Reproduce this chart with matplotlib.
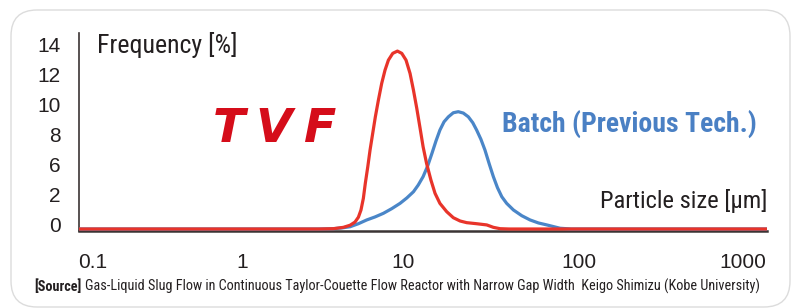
import os
import numpy as np
import matplotlib
matplotlib.use("Agg")
import matplotlib.pyplot as plt
import matplotlib.font_manager as fm
from matplotlib.font_manager import FontProperties
from matplotlib.patches import FancyBboxPatch
from matplotlib.transforms import ScaledTranslation

# ---------------- data ----------------
size_um_tvf = [0.08, 1.0, 3.0, 3.69, 4.26, 4.69, 5.03, 5.28, 5.48, 5.67, 5.83, 6.04, 6.24,
               6.48, 6.73, 7.03, 7.37, 7.73, 8.11, 8.63, 9.23, 9.82, 10.4, 10.96, 11.46,
               11.97, 12.5, 13.0, 13.6, 14.4, 15.2, 16.2, 17.7, 19.3, 21.1, 23.0, 26.2,
               29.9, 32.6, 35.6, 40.0, 1400.0]
freq_tvf = [0.0, 0.0, 0.0, 0.02, 0.11, 0.25, 0.46, 0.78, 1.26, 2.07, 4.06, 6.13, 7.24,
            8.34, 9.44, 10.55, 11.66, 12.54, 13.20, 13.65, 13.80, 13.65, 13.20, 12.32, 11.21,
            10.0, 8.68, 7.46, 6.36, 4.50, 2.73, 1.70, 1.15, 0.75, 0.53, 0.42, 0.35,
            0.27, 0.11, 0.02, 0.0, 0.0]

size_um_batch = [0.08, 1.0, 3.0, 3.69, 4.16, 4.69, 5.28, 5.95, 6.70, 7.55, 8.51, 9.58,
                 10.5, 11.46, 12.2, 13.0, 13.8, 14.6, 15.4, 16.2, 17.1, 18.1, 19.3, 20.6,
                 22.0, 23.5, 24.9, 26.2, 27.7, 29.2, 30.9, 32.6, 34.4, 36.4, 38.8, 42.4,
                 47.3, 52.7, 58.8, 65.6, 78.0, 90.0, 1400.0]
freq_batch = [0.0, 0.0, 0.0, 0.02, 0.07, 0.15, 0.35, 0.60, 0.80, 1.04, 1.35, 1.70,
              2.11, 2.94, 3.83, 4.94, 6.18, 7.02, 7.85, 8.56, 9.11, 9.44, 9.71, 9.78,
              9.69, 9.44, 9.05, 8.56, 7.95, 7.24, 6.31, 4.94, 3.48, 2.28, 1.70, 1.26,
              0.88, 0.60, 0.40, 0.27, 0.05, 0.0, 0.0]

x_ticks = [0.1, 1, 10, 100, 1000]
x_tick_labels = ["0.1", "1", "10", "100", "1000"]
y_ticks = [0, 2, 6, 8, 10, 12, 14]
y_tick_labels = ["0", "2", "6", "8", "10", "12", "14"]

label_tvf = "TVF"
label_batch = "Batch (Previous Tech.)"
y_title = "Frequency [%]"
x_title = "Particle size [\u03bcm]"
source_bold = "[Source]"
source_text = ("Gas-Liquid Slug Flow in Continuous Taylor-Couette Flow Reactor with "
               "Narrow Gap Width  Keigo Shimizu (Kobe University)")

# ---------------- axis calibration (printed axes are not uniform) ----------------
X_DEC = [-2, -1, 0, 1, 2, 3, 4]
X_POS = [-56, 93, 242, 403, 579, 743, 907]
Y_VAL = [-2, 0, 2, 6, 8, 10, 12, 14, 16]
Y_POS = [-1, 0, 1, 2, 3, 4, 5, 6, 7]


def fx(x):
    x = np.asarray(x, dtype=float)
    with np.errstate(divide="ignore", invalid="ignore"):
        l = np.log10(np.where(x > 0, x, 1e-300))
    return np.interp(l, X_DEC, X_POS)


def ix(p):
    return 10.0 ** np.interp(np.asarray(p, dtype=float), X_POS, X_DEC)


def fy(v):
    return np.interp(np.asarray(v, dtype=float), Y_VAL, Y_POS)


def iy(p):
    return np.interp(np.asarray(p, dtype=float), Y_POS, Y_VAL)


# ---------------- fonts: look for a condensed sans ----------------
def _weight(f):
    w = f.weight
    if isinstance(w, str):
        w = fm.weight_dict.get(w, 400)
    return w


def find_condensed(bold):
    prefs = ["liberationsansnarrow", "robotocondensed", "dejavusanscondensed",
             "notosanscondensed", "opensanscondensed", "latocondensed"]
    for pref in prefs:
        for f in fm.fontManager.ttflist:
            base = os.path.basename(f.fname).lower().replace("-", "").replace("_", "")
            if not base.startswith(pref):
                continue
            if "italic" in base or "oblique" in base or f.style != "normal":
                continue
            w = _weight(f)
            if bold and 650 <= w <= 750:
                return f.fname
            if not bold and w == 400:
                return f.fname
    return None


_reg = find_condensed(False)
_bold = find_condensed(True)
if _reg and _bold:
    fp_reg = FontProperties(fname=_reg)
    fp_bold = FontProperties(fname=_bold)
else:
    fp_reg = FontProperties(family=["Liberation Sans", "DejaVu Sans"])
    fp_bold = FontProperties(family=["Liberation Sans", "DejaVu Sans"], weight="bold")

W, H = 792, 308
fig = plt.figure(figsize=(W / 100, H / 100), dpi=100)
fig.patch.set_facecolor("white")
renderer = fig.canvas.get_renderer()


def fit(t, target_px, max_size):
    t.set_fontsize(max_size)
    w = t.get_window_extent(renderer).width
    if w > target_px:
        t.set_fontsize(max_size * target_px / w)


# rounded frame
frame = FancyBboxPatch((11 / 100, 1 / 100), 779 / 100, 297 / 100,
                       boxstyle="round,pad=0,rounding_size=0.26",
                       transform=fig.dpi_scale_trans, facecolor="none",
                       edgecolor="#dcdcdc", linewidth=1.0, zorder=-5)
fig.patches.append(frame)

ax = fig.add_axes([79 / W, (H - 231) / H, (767 - 79) / W, (231 - 33) / H])
ax.set_facecolor("none")
ax.set_xscale("function", functions=(fx, ix))
ax.set_yscale("function", functions=(fy, iy))

blue = "#4a86c8"
red = "#e8342a"
dark = "#3b3434"
txt = "#231f20"

ax.plot(size_um_batch, freq_batch, color=blue, lw=2.3, solid_joinstyle="round",
        solid_capstyle="butt", zorder=3)
ax.plot(size_um_tvf, freq_tvf, color=red, lw=2.3, solid_joinstyle="round",
        solid_capstyle="butt", zorder=4)

ax.set_xlim(0.0805, 1400)
ax.set_ylim(-0.133, 15.0)

for s in ["top", "right"]:
    ax.spines[s].set_visible(False)
ax.spines["left"].set_color(dark)
ax.spines["left"].set_linewidth(1.2)
ax.spines["bottom"].set_color(dark)
ax.spines["bottom"].set_linewidth(1.8)
ax.spines["bottom"].set_zorder(2)

ax.set_xticks(x_ticks)
ax.set_xticklabels(x_tick_labels)
ax.set_yticks(y_ticks)
ax.set_yticklabels(y_tick_labels)
ax.minorticks_off()
ax.tick_params(axis="both", length=0, colors=txt, labelsize=15)
ax.tick_params(axis="x", pad=16)
ax.tick_params(axis="y", pad=13)
for lab in ax.get_xticklabels() + ax.get_yticklabels():
    lab.set_family(["Liberation Sans", "DejaVu Sans"])
shift = ScaledTranslation(0, 4 / 100, fig.dpi_scale_trans)
for lab in ax.get_yticklabels():
    lab.set_transform(lab.get_transform() + shift)

t = fig.text(97 / W, 1 - 45 / H, y_title, ha="left", va="center", color=txt,
             fontproperties=fp_reg)
fit(t, 141, 19)
t = fig.text(767 / W, 1 - 201 / H, x_title, ha="right", va="center", color=txt,
             fontproperties=fp_reg)
fit(t, 167, 19)
t = fig.text(502 / W, 1 - 124 / H, label_batch, ha="left", va="center",
             color="#4a80c4", fontproperties=fp_bold)
fit(t, 258, 20)

# TVF logo as text
for ch, cx in zip(label_tvf, [229, 274, 320]):
    fig.text(cx / W, 1 - 130 / H, ch, ha="center", va="center", fontsize=34,
             fontweight="heavy", fontstyle="oblique", color="#d50d1a",
             family=["DejaVu Sans"])

# source line: bold prefix + regular text, fitted to the reference width
t1 = fig.text(34 / W, 1 - 287 / H, source_bold, ha="left", va="center",
              color=txt, fontproperties=fp_bold)
t2 = ax.annotate(source_text, xy=(1, 0), xycoords=t1, xytext=(3, 0),
                 textcoords="offset points", ha="left", va="bottom",
                 color=txt, fontproperties=fp_reg, annotation_clip=False)
size0 = 11.0
t1.set_fontsize(size0)
t2.set_fontsize(size0)
wtot = (t1.get_window_extent(renderer).width + t2.get_window_extent(renderer).width
        + 3 * 100 / 72)
if wtot > 729:
    s = size0 * 729 / wtot
    t1.set_fontsize(s)
    t2.set_fontsize(s)

fig.savefig("out.png", dpi=100, facecolor="white")
